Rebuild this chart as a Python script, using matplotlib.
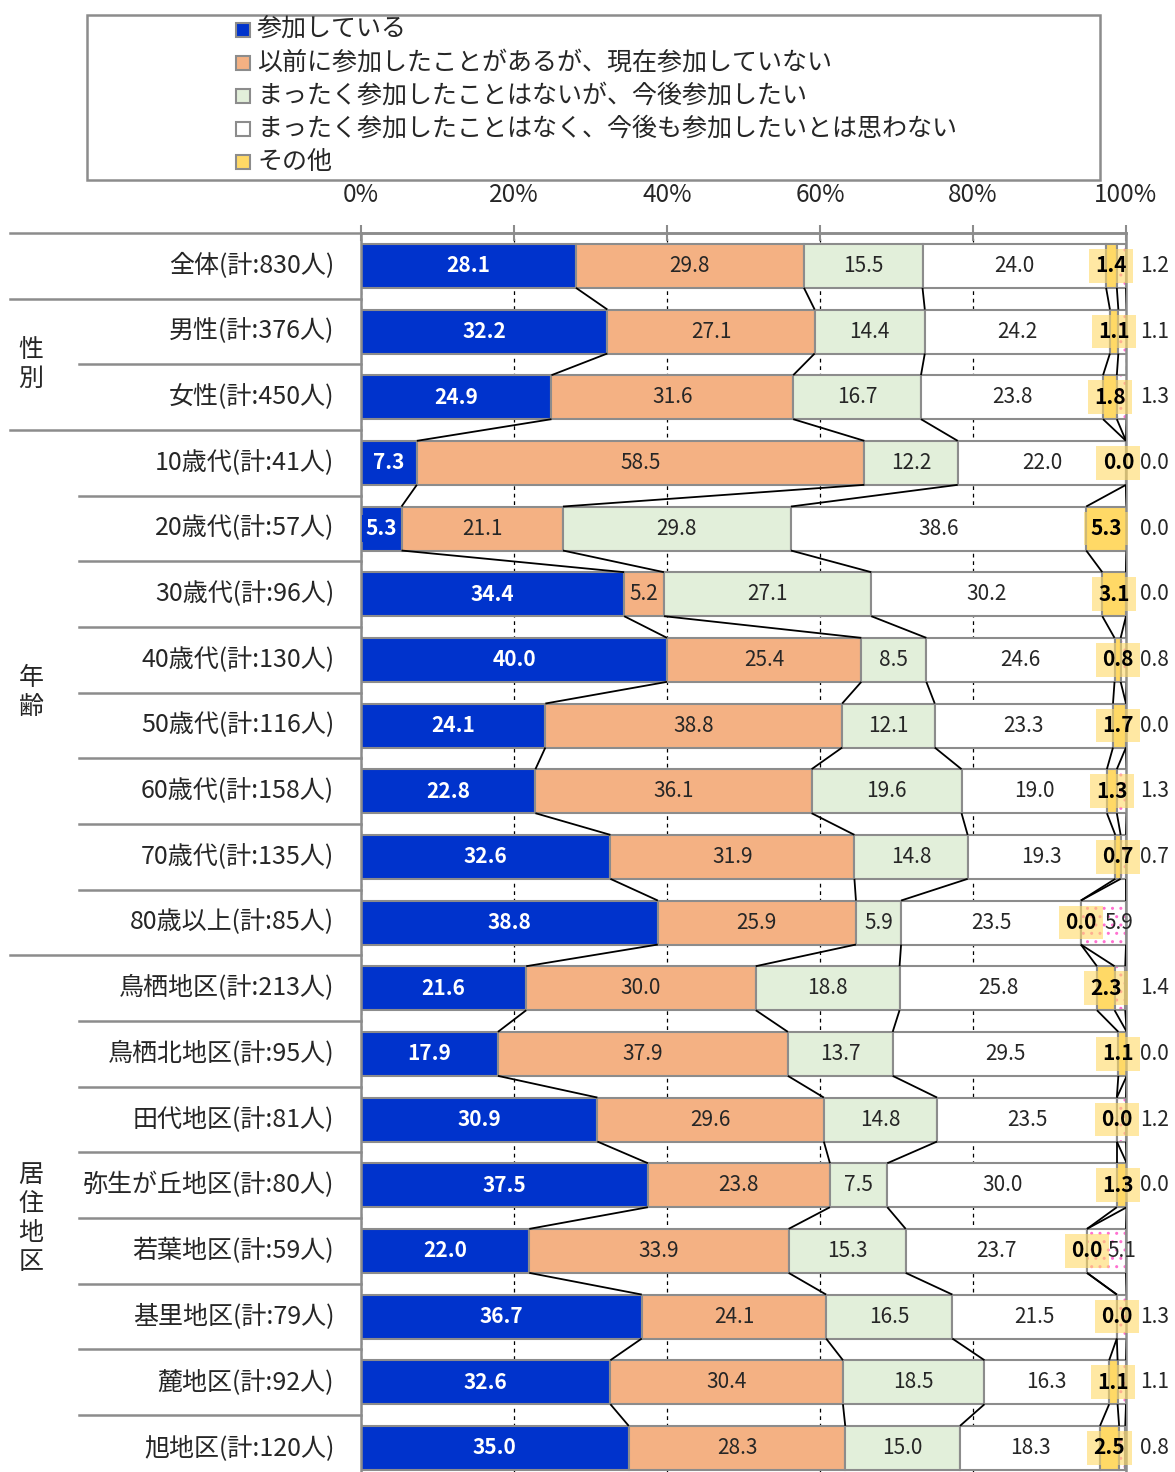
import matplotlib
matplotlib.use("Agg")
import matplotlib.pyplot as plt
from matplotlib.patches import Rectangle
import numpy as np

plt.rcParams['font.family'] = ['Noto Sans CJK JP', 'DejaVu Sans']

categories = [
    "全体(計:830人)",
    "男性(計:376人)", "女性(計:450人)",
    "10歳代(計:41人)", "20歳代(計:57人)", "30歳代(計:96人)", "40歳代(計:130人)",
    "50歳代(計:116人)", "60歳代(計:158人)", "70歳代(計:135人)", "80歳以上(計:85人)",
    "鳥栖地区(計:213人)", "鳥栖北地区(計:95人)", "田代地区(計:81人)", "弥生が丘地区(計:80人)",
    "若葉地区(計:59人)", "基里地区(計:79人)", "麓地区(計:92人)", "旭地区(計:120人)",
]

series_names = [
    "参加している",
    "以前に参加したことがあるが、現在参加していない",
    "まったく参加したことはないが、今後参加したい",
    "まったく参加したことはなく、今後も参加したいとは思わない",
    "その他",
    "無回答",
]

participating = [28.1, 32.2, 24.9, 7.3, 5.3, 34.4, 40.0, 24.1, 22.8, 32.6, 38.8,
                 21.6, 17.9, 30.9, 37.5, 22.0, 36.7, 32.6, 35.0]
past_only = [29.8, 27.1, 31.6, 58.5, 21.1, 5.2, 25.4, 38.8, 36.1, 31.9, 25.9,
             30.0, 37.9, 29.6, 23.8, 33.9, 24.1, 30.4, 28.3]
never_want = [15.5, 14.4, 16.7, 12.2, 29.8, 27.1, 8.5, 12.1, 19.6, 14.8, 5.9,
              18.8, 13.7, 14.8, 7.5, 15.3, 16.5, 18.5, 15.0]
never_not_want = [24.0, 24.2, 23.8, 22.0, 38.6, 30.2, 24.6, 23.3, 19.0, 19.3, 23.5,
                  25.8, 29.5, 23.5, 30.0, 23.7, 21.5, 16.3, 18.3]
other = [1.4, 1.1, 1.8, 0.0, 5.3, 3.1, 0.8, 1.7, 1.3, 0.7, 0.0,
         2.3, 1.1, 0.0, 1.3, 0.0, 0.0, 1.1, 2.5]
no_answer = [1.2, 1.1, 1.3, 0.0, 0.0, 0.0, 0.8, 0.0, 1.3, 0.7, 5.9,
             1.4, 0.0, 1.2, 0.0, 5.1, 1.3, 1.1, 0.8]

groups = [("性\n別", 1, 2), ("年\n齢", 3, 10), ("居\n住\n地\n区", 11, 18)]
xticks = [0, 20, 40, 60, 80, 100]
xtick_labels = ["0%", "20%", "40%", "60%", "80%", "100%"]

colors = ["#0033CC", "#F4B183", "#E2EFDA", "#FFFFFF", "#FFD966", "#FFFFFF"]
EDGE = "#8C8C8C"
TEXT = "#262626"

W, H = 1175, 1472
fig = plt.figure(figsize=(W / 100, H / 100), dpi=100)


def fx(px):
    return px / W


def fy(py):
    return 1 - py / H


# plot area: 0% at x=361px, 100% at x=1126px, top at y=233px, row pitch ~65.67px
top_px, pitch = 233, 65.67
ax = fig.add_axes([fx(361), 0, (1126 - 361) / W, (H - top_px) / H])
n = len(categories)
y = np.arange(n)
ax.set_xlim(0, 100)
ax.set_ylim(-0.5 + (H - top_px) / pitch, -0.5)

data = np.array([participating, past_only, never_want, never_not_want, other, no_answer])
cum = np.vstack([np.zeros(n), np.cumsum(data, axis=0)])
bh = 0.67

plt.rcParams['hatch.linewidth'] = 1.0
for k in range(6):
    if k == 5:
        ax.barh(y, data[k], left=cum[k], height=bh, color="white",
                edgecolor="#FF70D0", hatch="..", linewidth=0, zorder=2)
        ax.barh(y, data[k], left=cum[k], height=bh, fill=False,
                edgecolor=EDGE, linewidth=1.5, zorder=2.2)
    else:
        ax.barh(y, data[k], left=cum[k], height=bh, color=colors[k],
                edgecolor=EDGE, linewidth=1.5, zorder=2)

# connector lines between adjacent bars
for i in range(n - 1):
    for k in range(1, 7):
        ax.plot([cum[k][i], cum[k][i + 1]], [i + bh / 2, i + 1 - bh / 2],
                color="black", lw=1.3, zorder=3, solid_capstyle="butt")

num_font = ['Liberation Sans Narrow', 'DejaVu Sans Condensed', 'Noto Sans CJK JP']
for i in range(n):
    for k in range(6):
        v = data[k][i]
        cx = cum[k][i] + v / 2
        s = f"{v:.1f}"
        if k == 0:
            ax.text(cx, i, s, ha="center", va="center", color="white", fontsize=15,
                    fontweight="bold", family=num_font, zorder=5,
                    bbox=dict(boxstyle="square,pad=0.15", fc=colors[0], ec="none"))
        elif k in (1, 2, 3):
            ax.text(cx, i, s, ha="center", va="center", color=TEXT, fontsize=15,
                    family=num_font, zorder=5)
        elif k == 4:
            ax.text(min(cx, 99.0), i, s, ha="center", va="center", color="black",
                    fontsize=15, fontweight="bold", family=num_font, zorder=5,
                    bbox=dict(boxstyle="square,pad=0.3", fc="#FFD966", ec="none", alpha=0.6))
        else:
            lx = cx + 2 if v >= 5 else 103.7
            ax.text(lx, i, s, ha="center", va="center", color=TEXT, fontsize=15,
                    family=num_font, zorder=5, clip_on=False)

# axes styling
ax.xaxis.set_ticks_position("top")
ax.set_xticks(xticks)
ax.set_xticklabels(xtick_labels, fontsize=17.5, color=TEXT)
ax.tick_params(axis="x", direction="inout", length=12, color=EDGE, width=1.5, pad=12)
ax.set_yticks([])
ax.xaxis.grid(True, linestyle=(0, (3, 3)), color="black", lw=0.9)
ax.set_axisbelow(True)
for side in ("left", "right", "top"):
    ax.spines[side].set_color(EDGE)
    ax.spines[side].set_linewidth(1.8)
ax.spines["bottom"].set_visible(False)

# category labels and separators in the left margin
yt = ax.get_yaxis_transform()
for i, c in enumerate(categories):
    ax.text(-0.035, i, c, transform=yt, ha="right", va="center", fontsize=18,
            color=TEXT, clip_on=False)

full_left = (10 - 361) / 765
inner_left = (79 - 361) / 765
group_breaks = {-0.5, 0.5, 2.5, 10.5}
for b in np.arange(-0.5, n, 1.0):
    x0 = full_left if b in group_breaks else inner_left
    ax.plot([x0, 0], [b, b], transform=yt, color=EDGE, lw=1.8, clip_on=False, zorder=1)
ax.plot([0, 1], [-0.5, -0.5], transform=yt, color=EDGE, lw=1.8, clip_on=False, zorder=1)

for label, a, b in groups:
    ax.text((31 - 361) / 765, (a + b) / 2, label, transform=yt, ha="center", va="center",
            fontsize=18, color=TEXT, linespacing=1.15, clip_on=False)

# legend box
fig.patches.append(Rectangle((fx(87), fy(180)), (1100 - 87) / W, 165 / H,
                             transform=fig.transFigure, fill=False, ec=EDGE, lw=1.8))
legend_rows = [30, 63, 96, 129, 162]
for k, ry in enumerate(legend_rows):
    fig.patches.append(Rectangle((fx(236), fy(ry + 7)), 14 / W, 14 / H,
                                 transform=fig.transFigure, fc=colors[k], ec=EDGE, lw=1.5))
    fig.text(fx(257), fy(ry), series_names[k], ha="left", va="center", fontsize=18,
             color=TEXT)

fig.savefig("out.png", dpi=100)
